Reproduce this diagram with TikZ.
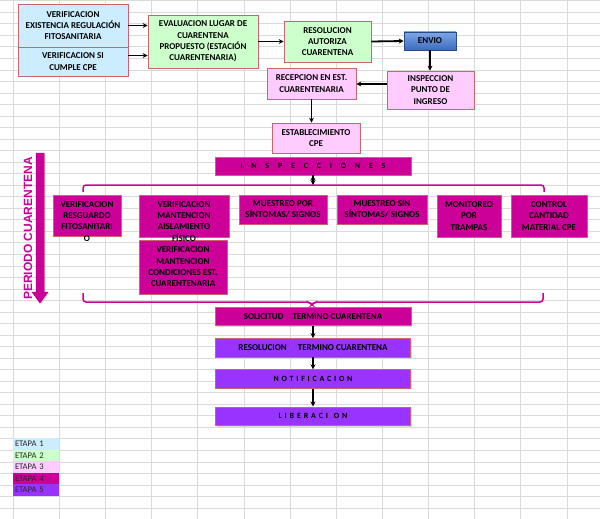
\documentclass[tikz,border=0pt]{standalone}
\usepackage{fontspec}
\setmainfont{Carlito}
\newfontfamily\periodfont{Liberation Sans}
\usetikzlibrary{arrows.meta,positioning,shadows}
\definecolor{etapaA}{RGB}{204,236,255}
\definecolor{etapaB}{RGB}{204,255,204}
\definecolor{etapaC}{RGB}{255,204,255}
\definecolor{etapaD}{RGB}{204,0,153}
\definecolor{etapaE}{RGB}{153,51,255}
\definecolor{borde}{RGB}{205,100,110}
\definecolor{rejillagris}{RGB}{218,218,218}
\definecolor{azulclaro}{RGB}{125,168,232}
\definecolor{azuloscuro}{RGB}{62,106,190}
\tikzset{>={Stealth[length=5pt, width=5pt]}, % arrow heads of the connectors
x=1pt, y=-1pt, % one unit is one pixel of the sheet, y runs down
node distance=12pt, % gap between the closing steps
every node/.style={font=\fontsize{9}{11.3}\selectfont\bfseries, align=center, inner sep=1pt},
caja/.style={draw=borde, line width=0.7pt, drop shadow={shadow xshift=1.2pt, shadow yshift=-1.2pt, opacity=0.3}}, % every shape of the sheet
paso1/.style={caja, fill=etapaA},
paso2/.style={caja, fill=etapaB},
paso3/.style={caja, fill=etapaC},
paso4/.style={caja, fill=etapaD},
paso5/.style={caja, fill=etapaE},
azul/.style={caja, draw=azuloscuro!70!black, top color=azulclaro, bottom color=azuloscuro},
barra/.style={minimum width=195pt, minimum height=18.5pt}, % the long closing steps
espaciado/.style={font=\fontsize{8}{9}\selectfont\bfseries},
flecha/.style={->, line width=1.8pt, every edge/.append style={->, line width=1.8pt}}, % black connectors
llave/.style={draw=etapaD, line width=1.5pt, rounded corners=3pt}, % brackets round the inspections
celda/.style={minimum width=46pt, minimum height=11.5pt, text width=42pt, align=left, inner sep=2pt, font=\fontsize{8.6}{9}\selectfont, text=black!85},
rejilla/.style={draw=rejillagris, line width=0.5pt}, % spreadsheet lines
}
\begin{document}
\begin{tikzpicture}
\fill[white] (0,0) rectangle (600,519);
\useasboundingbox (0,0) rectangle (600,519);
\foreach \c in {0,...,12} \draw[rejilla] (13+46.15*\c,0) -- (13+46.15*\c,519);
\foreach \f in {0,...,44} \draw[rejilla] (0,0.6+11.53*\f) -- (600,0.6+11.53*\f);

% first steps
\node[paso1, minimum width=110pt, minimum height=43pt] (regul) at (73,25.5) {VERIFICACION\\EXISTENCIA REGULACIÓN\\FITOSANITARIA};
\node[paso1, minimum width=110pt, minimum height=29pt] (cpe) at (73,61.5) {VERIFICACION SI\\CUMPLE CPE};
\node[paso2, minimum width=110pt, minimum height=53pt] (eval) at (203,41.5) {EVALUACION LUGAR DE\\CUARENTENA\\PROPUESTO (ESTACIÓN\\CUARENTENARIA)};
\node[paso2, minimum width=87pt, minimum height=41pt] (autoriza) at (327.5,41.5) {RESOLUCION\\AUTORIZA\\CUARENTENA};
\node[azul, minimum width=52pt, minimum height=18pt] (envio) at (430,41) {ENVIO};
\node[paso3, minimum width=87pt, minimum height=38pt] (ingreso) at (430.5,90) {INSPECCION\\PUNTO DE\\INGRESO};
\node[paso3, minimum width=89pt, minimum height=31pt] (recep) at (311.5,83.5) {RECEPCION EN EST.\\CUARENTENARIA};
\node[paso3, minimum width=88pt, minimum height=30pt] (estab) at (316,138) {ESTABLECIMIENTO\\CPE};
\node[paso4, espaciado, minimum width=196pt, minimum height=18pt] (inspec) at (313,166) {\makebox[145pt][s]{I\hfill N\hfill S\hfill P\hfill E\hfill C\hfill C\hfill I\hfill O\hfill N\hfill E\hfill S}};

% inspections
\node[paso4, minimum width=68pt, minimum height=41pt] (resguardo) at (87,215.5) {};
\node[paso4, minimum width=90pt, minimum height=42pt] (aislam) at (184,216) {};
\node[paso4, minimum width=88pt, minimum height=54pt] (condic) at (183,267) {VERIFICACION\\MANTENCION\\CONDICIONES EST.\\CUARENTENARIA};
\node[anchor=north] (resguardotxt) at ([yshift=-5.5pt]resguardo.north) {VERIFICACION\\RESGUARDO\\FITOSANITARI\\O};
\node[anchor=north] (aislamtxt) at ([yshift=-5.5pt]aislam.north) {VERIFICACION\\MANTENCION\\AISLAMIENTO\\FÍSICO};
\node[paso4, minimum width=88pt, minimum height=29pt] (mconsig) at (283,209.5) {MUESTREO POR\\SÍNTOMAS/ SIGNOS};
\node[paso4, minimum width=90pt, minimum height=29pt] (msinsig) at (382,209.5) {MUESTREO SIN\\SÍNTOMAS/ SIGNOS};
\node[paso4, minimum width=64pt, minimum height=42pt] (trampas) at (469,216) {MONITOREO\\POR\\TRAMPAS};
\node[paso4, minimum width=76pt, minimum height=42pt] (control) at (549,216) {CONTROL\\CANTIDAD\\MATERIAL CPE};

% closing steps
\node[paso4, barra, minimum width=196pt] (solic) at (313,316.5) {SOLICITUD\quad TERMINO CUARENTENA};
\node[paso5, barra, below=of solic] (resterm) {RESOLUCION\quad\ TERMINO CUARENTENA};
\node[paso5, barra, espaciado, below=of resterm] (notif) {\makebox[79pt][s]{N\hfill O\hfill T\hfill I\hfill F\hfill I\hfill C\hfill A\hfill C\hfill I\hfill O\hfill N}};
\node[paso5, barra, espaciado, below=18pt of notif] (liber) {\makebox[69pt][s]{L\hfill I\hfill B\hfill E\hfill R\hfill A\hfill C\hfill I\hfill\hspace{3pt}O\hfill N}};

% brackets and period arrow
\coordinate (llavearriba) at (313,185);
\draw[llave] (83,192) -- (83,185) -- (544,185) -- (544,192);
\draw[llave] (83,293) -- (83,302) -- (309,302) -- (312,305) -- (315,302) -- (543,302) -- (543,293);
\filldraw[fill=etapaD, draw=etapaD!85!black, line width=0.5pt, drop shadow={shadow xshift=1.5pt, shadow yshift=-1pt, opacity=0.3}] (36,153) -- (44,153) -- (44,292) -- (48,292) -- (40,303) -- (32,292) -- (36,292) -- cycle;
\node[rotate=90, text=etapaD, font=\periodfont\bfseries\fontsize{12}{14}\selectfont] (periodo) at (28,228.5) {PERIODO CUARENTENA};

% legend
\node[celda, fill=etapaA] (etapa1) at (36,443.75) {ETAPA 1};
\node[celda, fill=etapaB] (etapa2) at (36,455.25) {ETAPA 2};
\node[celda, fill=etapaC] (etapa3) at (36,466.75) {ETAPA 3};
\node[celda, fill=etapaD] (etapa4) at (36,478.25) {ETAPA 4};
\node[celda, fill=etapaE] (etapa5) at (36,489.75) {ETAPA 5};

\draw[flecha] (regul.east) edge (regul.east -| eval.west)
([yshift=6pt]cpe.east) edge ([yshift=6pt]cpe.east -| eval.west)
(eval.east) edge (autoriza.west)
(autoriza.east) edge (envio.west)
(envio.south) edge (envio.south |- ingreso.north)
([yshift=6pt]ingreso.west) edge ([yshift=6pt]ingreso.west -| recep.east)
(recep.south) edge (recep.south |- estab.north)
(inspec.south) edge (llavearriba)
(solic) edge (resterm)
(resterm) edge (notif)
(notif) edge (liber);
\end{tikzpicture}
\end{document}
